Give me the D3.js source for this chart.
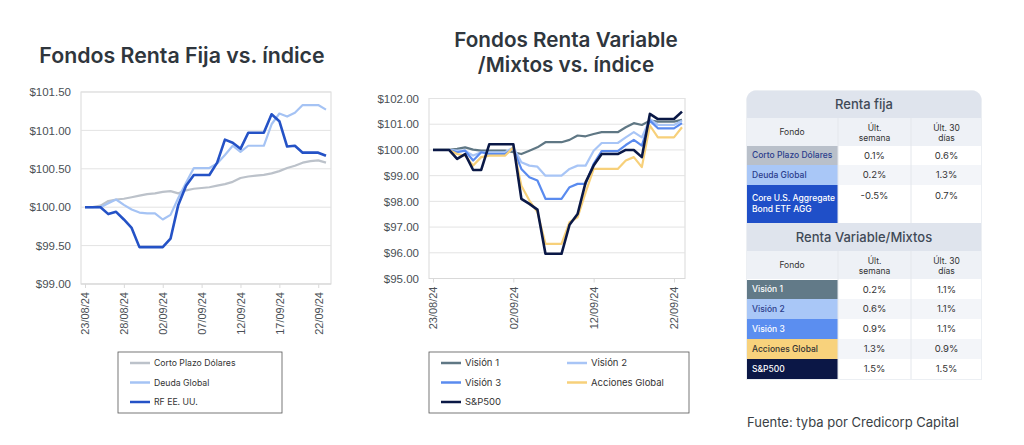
<!DOCTYPE html>
<html>
<head>
<meta charset="utf-8">
<script src="https://cdn.jsdelivr.net/npm/d3@7"></script>
<style>
  body { margin: 0; background: #fff; }
  svg { display: block; font-family: Inter, "Noto Sans", sans-serif; }
</style>
</head>
<body>
<div id="vizHolder"></div>
<script>
// fechas (una por día)
var fechas = ['23/08/24','24/08/24','25/08/24','26/08/24','27/08/24','28/08/24','29/08/24','30/08/24',
  '31/08/24','01/09/24','02/09/24','03/09/24','04/09/24','05/09/24','06/09/24','07/09/24',
  '08/09/24','09/09/24','10/09/24','11/09/24','12/09/24','13/09/24','14/09/24','15/09/24',
  '16/09/24','17/09/24','18/09/24','19/09/24','20/09/24','21/09/24','22/09/24','23/09/24'];

// Renta fija
var cortoPlazo = [100.00,100.00,100.02,100.08,100.10,100.11,100.13,100.15,100.17,100.18,100.20,100.21,100.18,100.22,100.24,100.25,
  100.26,100.28,100.30,100.33,100.38,100.40,100.41,100.42,100.44,100.47,100.51,100.54,100.58,100.60,100.61,100.58];
var deudaGlobal = [100.00,100.00,100.00,100.05,100.10,100.03,99.97,99.93,99.92,99.92,99.84,99.90,100.12,100.32,100.51,100.51,
  100.51,100.57,100.68,100.80,100.72,100.80,100.80,100.80,101.08,101.22,101.18,101.23,101.33,101.33,101.33,101.27];
var rfEEUU = [100.00,100.00,100.00,99.91,99.94,99.84,99.73,99.48,99.48,99.48,99.48,99.59,100.03,100.28,100.42,100.42,
  100.42,100.58,100.88,100.84,100.76,100.97,100.97,100.97,101.21,101.12,100.79,100.80,100.71,100.71,100.71,100.67];

// Renta variable / mixtos
var vision1 = [100,100,100,100.04,100.10,100.01,99.97,99.97,99.97,99.97,99.91,99.84,99.97,100.10,100.30,100.30,
  100.30,100.39,100.56,100.53,100.62,100.69,100.69,100.69,100.88,101.04,100.97,101.14,101.10,101.10,101.10,101.17];
var vision2 = [100,100,100,99.97,99.97,99.78,99.91,99.91,99.91,99.91,100.10,99.52,99.39,99.35,99.00,99.00,
  99.00,99.26,99.39,99.39,99.97,100.27,100.27,100.27,100.49,100.69,100.49,101.20,100.97,100.97,100.97,101.14];
var vision3 = [100,100,100,99.91,99.97,99.59,99.91,99.84,99.84,99.84,100.04,99.26,98.94,98.81,98.10,98.10,
  98.10,98.55,98.68,98.68,99.46,99.95,99.95,99.95,100.19,100.39,100.17,101.14,100.84,100.84,100.84,101.04];
var accionesGlobal = [100,100,100,99.84,99.78,99.39,99.72,99.78,99.78,99.78,100.10,98.61,98.03,97.58,96.35,96.35,
  96.35,97.19,97.38,98.35,99.26,99.26,99.26,99.26,99.59,99.72,99.33,100.95,100.49,100.49,100.49,100.88];
var sp500 = [100,100,100,99.65,99.84,99.22,99.22,100.22,100.22,100.22,100.22,98.10,97.90,97.68,95.96,95.96,
  95.96,97.09,97.51,98.74,99.39,99.84,99.84,99.84,100.00,100.00,99.72,101.40,101.20,101.20,101.20,101.49];

var ticksFija = [99.0, 99.5, 100.0, 100.5, 101.0, 101.5];
var ticksVariable = [95, 96, 97, 98, 99, 100, 101, 102];

// tabla
var fondosFija = ['Corto Plazo Dólares', 'Deuda Global', 'Core U.S. Aggregate|Bond ETF AGG'];
var semanaFija = ['0.1%', '0.2%', '-0.5%'];
var diasFija = ['0.6%', '1.3%', '0.7%'];
var fondosVar = ['Visión 1', 'Visión 2', 'Visión 3', 'Acciones Global', 'S&P500'];
var semanaVar = ['0.2%', '0.6%', '0.9%', '1.3%', '1.5%'];
var diasVar = ['1.1%', '1.1%', '1.1%', '0.9%', '1.5%'];

var parse = d3.timeParse('%d/%m/%y'),
    fmt = d3.timeFormat('%d/%m/%y'),
    dates = fechas.map(parse);

var svg = d3.select('#vizHolder').append('svg')
  .attr('width', 1024).attr('height', 445);
svg.append('rect').attr('width', 1024).attr('height', 445).attr('fill', '#fff');

function chart(opt) {
  var x = d3.scaleTime().domain(d3.extent(dates)).range(opt.xr);
  var y = d3.scaleLinear().domain(d3.extent(opt.ticks)).range(opt.yr);
  var g = svg.append('g');

  // frame + grid
  g.append('rect')
    .attr('x', opt.frame[0]).attr('y', opt.yr[1])
    .attr('width', opt.frame[1] - opt.frame[0]).attr('height', opt.yr[0] - opt.yr[1])
    .attr('fill', 'none').attr('stroke', '#d9d9d9');
  g.selectAll('.grid').data(opt.ticks).enter().append('line')
    .attr('x1', opt.frame[0]).attr('x2', opt.frame[1])
    .attr('y1', function(d) { return y(d); }).attr('y2', function(d) { return y(d); })
    .attr('stroke', '#e3e3e3');

  var yAxis = g.append('g')
    .attr('transform', 'translate(' + opt.frame[0] + ',0)')
    .call(d3.axisLeft(y).tickValues(opt.ticks).tickSize(0).tickPadding(10)
      .tickFormat(function(d) { return '$' + d3.format('.2f')(d); }));
  yAxis.select('.domain').remove();
  yAxis.selectAll('text').attr('fill', '#4a4f55').style('font-size', '11.5px');

  var xTicks = dates.filter(function(d, i) { return i % opt.every === 0; });
  var xAxis = g.append('g')
    .attr('transform', 'translate(0,' + opt.yr[0] + ')')
    .call(d3.axisBottom(x).tickValues(xTicks).tickSize(4).tickFormat(fmt));
  xAxis.select('.domain').attr('stroke', '#d9d9d9').attr('d', 'M' + opt.frame[0] + ',0H' + opt.frame[1]);
  xAxis.selectAll('line').attr('stroke', '#d9d9d9');
  xAxis.selectAll('text')
    .attr('fill', '#4a4f55').style('font-size', '11px')
    .attr('text-anchor', 'end').attr('dy', '0.35em')
    .attr('transform', 'translate(0,4) rotate(-90)')
    .attr('x', -4).attr('y', 0);

  var line = d3.line()
    .x(function(d, i) { return x(dates[i]); })
    .y(function(d) { return y(d); });

  opt.series.forEach(function(s) {
    g.append('path').datum(s.values)
      .attr('d', line).attr('fill', 'none')
      .attr('stroke', s.color).attr('stroke-width', s.w)
      .attr('stroke-linejoin', 'round');
  });

  // legend
  var L = opt.legend;
  g.append('rect').attr('x', L.x).attr('y', L.y).attr('width', L.w).attr('height', L.h)
    .attr('fill', '#fff').attr('stroke', '#555').attr('stroke-width', 0.8);
  opt.series.forEach(function(s, i) {
    var col = i % L.cols, row = Math.floor(i / L.cols);
    var lx = L.x + 12 + col * L.colW, ly = L.y + 11 + row * 19.5;
    g.append('line').attr('x1', lx).attr('x2', lx + 20).attr('y1', ly).attr('y2', ly)
      .attr('stroke', s.color).attr('stroke-width', 2.5);
    g.append('text').attr('x', lx + 24).attr('y', ly).attr('dy', '0.35em')
      .attr('fill', '#333').style('font-size', L.fs).text(s.name);
  });
}

chart({
  xr: [85, 326], yr: [284, 92], frame: [81, 331], ticks: ticksFija, every: 5,
  series: [
    { name: 'Corto Plazo Dólares', values: cortoPlazo, color: '#bcc2ca', w: 2.2 },
    { name: 'Deuda Global', values: deudaGlobal, color: '#a5c3f4', w: 2.2 },
    { name: 'RF EE. UU.', values: rfEEUU, color: '#2452c6', w: 2.6 }
  ],
  legend: { x: 118, y: 352, w: 164, h: 61, cols: 1, colW: 0, fs: '8.7px' }
});

chart({
  xr: [433, 682], yr: [278.5, 98.5], frame: [429, 685], ticks: ticksVariable, every: 10,
  series: [
    { name: 'Visión 1', values: vision1, color: '#5f7784', w: 2.2 },
    { name: 'Visión 2', values: vision2, color: '#a8c5f6', w: 2.2 },
    { name: 'Visión 3', values: vision3, color: '#5a8bef', w: 2.2 },
    { name: 'Acciones Global', values: accionesGlobal, color: '#f7d07a', w: 2.2 },
    { name: 'S&P500', values: sp500, color: '#0a1846', w: 2.6 }
  ],
  legend: { x: 429, y: 352, w: 260, h: 61, cols: 2, colW: 126, fs: '9.5px' }
});

// titulos
svg.append('text').attr('x', 182).attr('y', 63).attr('text-anchor', 'middle')
  .attr('fill', '#2f363d').style('font-size', '21.3px').style('font-weight', 600)
  .text('Fondos Renta Fija vs. índice');
svg.append('text').attr('x', 566).attr('y', 47).attr('text-anchor', 'middle')
  .attr('fill', '#2f363d').style('font-size', '20.7px').style('font-weight', 600)
  .text('Fondos Renta Variable');
svg.append('text').attr('x', 566).attr('y', 72).attr('text-anchor', 'middle')
  .attr('fill', '#2f363d').style('font-size', '20.7px').style('font-weight', 600)
  .text('/Mixtos vs. índice');

// tabla
var tx = 746, tw = 236, cols = [746, 838, 911, 982];
var tbl = svg.append('g');
svg.append('clipPath').attr('id', 'tclip').append('path')
  .attr('d', 'M746,103 Q746,90 759,90 H969 Q982,90 982,103 V380 H746 Z');
tbl.attr('clip-path', 'url(#tclip)');

var colorsFija = [['#b9c0ca', '#2b3d8c'], ['#a9c7f7', '#2b3d8c'], ['#1f4fc8', '#fff']];
var colorsVar = [['#627a88', '#fff'], ['#a9c7f7', '#2b3d8c'], ['#5b8ef0', '#fff'], ['#f8d27c', '#333'], ['#0b1746', '#fff']];

function section(title, y0, rowsY, fondos, semana, dias, colors) {
  tbl.append('rect').attr('x', tx).attr('y', y0).attr('width', tw).attr('height', 28).attr('fill', '#dfe4ed');
  tbl.append('text').attr('x', tx + tw / 2).attr('y', y0 + 14).attr('dy', '0.35em').attr('text-anchor', 'middle')
    .attr('fill', '#3f4a57').style('font-size', '13px').style('font-weight', 500).text(title);
  var hy = y0 + 28;
  tbl.append('rect').attr('x', tx).attr('y', hy).attr('width', tw).attr('height', 28).attr('fill', '#eef1f6');
  tbl.append('text').attr('x', (cols[0] + cols[1]) / 2).attr('y', hy + 14).attr('dy', '0.35em')
    .attr('text-anchor', 'middle').attr('fill', '#333').style('font-size', '8.5px').text('Fondo');
  [['Últ.', 'semana'], ['Últ. 30', 'días']].forEach(function(h, k) {
    var cx = (cols[k + 1] + cols[k + 2]) / 2;
    h.forEach(function(t, j) {
      tbl.append('text').attr('x', cx).attr('y', hy + 10 + j * 10).attr('dy', '0.35em')
        .attr('text-anchor', 'middle').attr('fill', '#333').style('font-size', '8.5px').text(t);
    });
  });
  fondos.forEach(function(f, i) {
    var ry = rowsY[i], rh = rowsY[i + 1] - rowsY[i], mid = ry + rh / 2;
    tbl.append('rect').attr('x', tx).attr('y', ry).attr('width', tw).attr('height', rh)
      .attr('fill', i % 2 ? '#f3f5f9' : '#fff');
    tbl.append('rect').attr('x', tx).attr('y', ry).attr('width', cols[1] - cols[0]).attr('height', rh)
      .attr('fill', colors[i][0]);
    var parts = f.split('|');
    parts.forEach(function(p, j) {
      tbl.append('text').attr('x', tx + 6).attr('y', mid + (j - (parts.length - 1) / 2) * 11).attr('dy', '0.35em')
        .attr('fill', colors[i][1]).style('font-size', '8.5px').style('font-weight', 500).text(p);
    });
    [semana[i], dias[i]].forEach(function(v, k) {
      tbl.append('text').attr('x', (cols[k + 1] + cols[k + 2]) / 2).attr('y', parts.length > 1 ? ry + 11 : mid)
        .attr('dy', '0.35em').attr('text-anchor', 'middle').attr('fill', '#333')
        .style('font-size', '9.5px').text(v);
    });
  });
  // divisores
  [cols[1], cols[2]].forEach(function(cx) {
    tbl.append('line').attr('x1', cx).attr('x2', cx).attr('y1', hy).attr('y2', rowsY[rowsY.length - 1])
      .attr('stroke', '#e4e7ec');
  });
}

section('Renta fija', 90, [146, 165, 185, 223], fondosFija, semanaFija, diasFija, colorsFija);
section('Renta Variable/Mixtos', 223, [280, 299, 319, 339, 359, 379], fondosVar, semanaVar, diasVar, colorsVar);
tbl.append('rect').attr('x', 746.5).attr('y', 90.5).attr('width', 235).attr('height', 289)
  .attr('fill', 'none').attr('stroke', '#eceff3');

svg.append('text').attr('x', 747).attr('y', 422).attr('dy', '0.35em')
  .attr('fill', '#3a3f45').style('font-size', '13px')
  .text('Fuente: tyba por Credicorp Capital');
</script>
</body>
</html>
